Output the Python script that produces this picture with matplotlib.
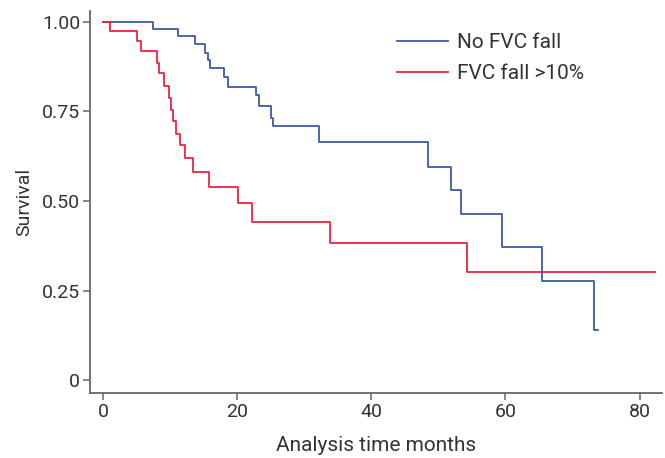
import matplotlib
matplotlib.use("Agg")
import matplotlib.pyplot as plt

plt.rcParams['font.family'] = ['Roboto', 'DejaVu Sans']

# Kaplan-Meier steps
no_fall_t = [0, 7.5, 11.2, 13.7, 15.2, 15.65, 16.0, 18.0, 18.6, 22.8, 23.2, 25.1, 25.3,
             32.2, 48.4, 51.9, 53.4, 59.5, 65.4, 73.2, 73.8]
no_fall_s = [1.0, 0.980, 0.961, 0.939, 0.912, 0.894, 0.870, 0.847, 0.819, 0.796, 0.766,
             0.731, 0.708, 0.664, 0.596, 0.531, 0.464, 0.371, 0.277, 0.140, 0.140]

fall_t = [0, 1.1, 5.1, 5.7, 8.1, 8.4, 9.1, 9.8, 10.1, 10.45, 10.9, 11.5, 12.3, 13.4,
          15.8, 20.2, 22.2, 33.9, 54.2, 82.3]
fall_s = [1.0, 0.973, 0.947, 0.919, 0.884, 0.858, 0.822, 0.787, 0.754, 0.722, 0.686,
          0.656, 0.619, 0.581, 0.540, 0.493, 0.441, 0.383, 0.303, 0.303]

labels = ['No FVC fall', 'FVC fall >10%']
colors = ['#3b5ba5', '#e8253f']
xticks = [0, 20, 40, 60, 80]
yticks = [0, 0.25, 0.5, 0.75, 1.0]
yticklabels = ['0', '0.25', '0.50', '0.75', '1.00']

fig = plt.figure(figsize=(6.65, 4.58), dpi=100)
ax = fig.add_axes([0.1353, 0.1419, 0.995 - 0.1353, 0.976 - 0.1419])

ax.step(no_fall_t, no_fall_s, where='post', color=colors[0], lw=1.3, label=labels[0])
ax.step(fall_t, fall_s, where='post', color=colors[1], lw=1.3, label=labels[1])

ax.set_xlim(-1.94, 83.3)
ax.set_ylim(-0.036, 1.03)
ax.set_xticks(xticks)
ax.set_yticks(yticks)
ax.set_yticklabels(yticklabels)

for s in ['top', 'right']:
    ax.spines[s].set_visible(False)
for s in ['left', 'bottom']:
    ax.spines[s].set_color('#666666')
    ax.spines[s].set_linewidth(1.3)
ax.tick_params(direction='out', length=5, width=1.1, color='#666666',
               labelcolor='#333333', labelsize=14, pad=2)

ax.set_xlabel('Analysis time months', fontsize=15, color='#333333', labelpad=11)
ax.set_ylabel('Survival', fontsize=14, color='#333333', labelpad=6)

ax.legend(loc='upper left', bbox_to_anchor=(0.597, 0.928), bbox_transform=fig.transFigure,
          frameon=False, fontsize=15, borderpad=0, borderaxespad=0,
          handlelength=2.45, handletextpad=0.45, labelspacing=0.6,
          labelcolor='#333333')

fig.savefig('out.png', dpi=100)
